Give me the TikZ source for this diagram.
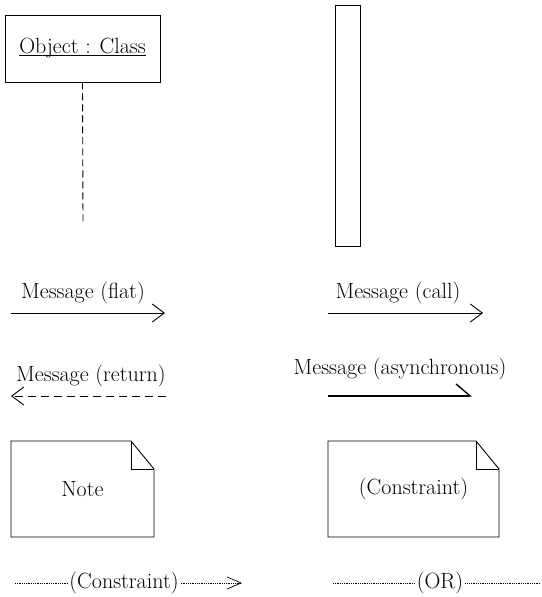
\documentclass[tikz,border=0pt]{standalone}
\usepackage{tikz}
\usetikzlibrary{arrows.meta,positioning}

\tikzset{
  box/.style={draw,line width=0.9pt,inner sep=0pt},
  msg/.style={line width=0.9pt},
  lifeline/.style={line width=0.9pt,dash pattern=on 7pt off 4pt},
  retline/.style={line width=0.9pt,dash pattern=on 8pt off 5pt},
  dots/.style={line width=0.7pt,dash pattern=on 0.9pt off 0.9pt},
  lbl/.style={inner sep=2pt},
  open tip/.style={-{Straight Barb[length=12pt,width=18pt]}}
}

\begin{document}
\begin{tikzpicture}[x=1pt,y=-1pt,font=\fontsize{22}{26}\selectfont]
\useasboundingbox (0,0) rectangle (541,597);

% object with its lifeline, and the activation bar
\node[box,minimum width=155pt,minimum height=67pt] (obj) at (82.5,48.5) {\underline{\smash{Object : Class}}\vphantom{Oj}};
\coordinate (lifeend) at (83,222);
\draw[lifeline] (obj.south) -- (lifeend);
\node[box,minimum width=25pt,minimum height=241pt] (act) at (347.5,125.5) {};

% messages
\foreach \name/\xa/\xb/\y in {flat/11/165/313, call/328/483/313, ret/166/11/396, async/328/472/396} {
  \coordinate (\name A) at (\xa,\y);
  \coordinate (\name B) at (\xb,\y);
}
\draw[msg,open tip] (flatA) -- (flatB);
\draw[msg,open tip] (callA) -- (callB);
\draw[retline,open tip] (retA) -- (retB);
\draw[msg,line width=1.4pt,-{Straight Barb[left,length=14pt,width=24pt]}] (asyncA) -- (asyncB);
\node[lbl] (flatlbl) at (83,293) {Message (flat)};
\node[lbl] (calllbl) at (398,293) {Message (call)};
\node[lbl] (retlbl) at (91,376) {Message (return)};
\node[lbl] (asynclbl) at (400,369) {Message (asynchronous)};

% notes
\foreach \name/\xa/\xb/\disp in {note/11/154/Note, cons/328/499/(Constraint)} {
  \draw[box] (\xa,441) -- (\xb-23,441) -- (\xb,469) -- (\xb,537) -- (\xa,537) -- cycle;
  \draw[box] (\xb-23,441) -- (\xb-23,469) -- (\xb,469);
  \node (\name) at ({(\xa+\xb)/2},489) {\disp};
}

% dependencies
\node[lbl] (ctext) at (124,583) {(Constraint)};
\coordinate (cstart) at (15,583);
\coordinate (cend) at (242,583);
\draw[dots] (cstart) -- (ctext.west);
\draw[dots,-{Straight Barb[length=14pt,width=12pt]}] (ctext.east) -- (cend);

\node[lbl] (ortext) at (440,583) {(OR)};
\coordinate (orstart) at (333,583);
\coordinate (orend) at (540,583);
\draw[dots] (orstart) -- (ortext.west);
\draw[dots] (ortext.east) -- (orend);

\end{tikzpicture}
\end{document}
